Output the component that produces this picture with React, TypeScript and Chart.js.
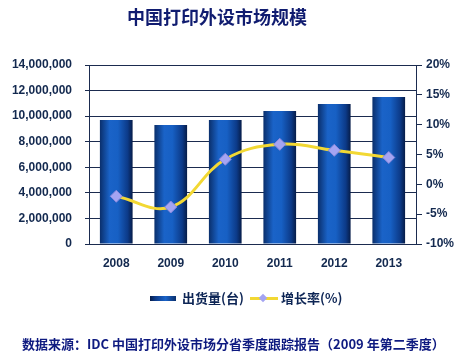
import React, { useEffect, useRef } from "react";
import { Chart, registerables } from "chart.js";

Chart.register(...registerables);

const title = "中国打印外设市场规模";
const footer = "数据来源：IDC 中国打印外设市场分省季度跟踪报告（2009 年第二季度）";
const categories = ["2008", "2009", "2010", "2011", "2012", "2013"];
const shipments = [9700000, 9300000, 9700000, 10400000, 10950000, 11500000];
const growth = [-2.0, -3.8, 4.2, 6.7, 5.7, 4.5];
const seriesNames = ["出货量(台)", "增长率(%)"];
const leftAxis = { min: 0, max: 14000000, step: 2000000 };
const rightAxis = { min: -10, max: 20, step: 5 };

const NAVY = "#13294f";
const GRID = "#1b2b4f";
const LABEL_FONT = { family: "'Liberation Sans', Arial, sans-serif", weight: "bold" as const, size: 12 };
const CAT_PCT = 0.6;

function addBarStops(g: CanvasGradient) {
  g.addColorStop(0, "#0a2f6c");
  g.addColorStop(0.3, "#1a63c8");
  g.addColorStop(0.55, "#1760c4");
  g.addColorStop(0.85, "#0c3a88");
  g.addColorStop(1, "#061c48");
}

function barGradient(ctx: any) {
  const chart = ctx.chart;
  const xs = chart.scales && chart.scales.x;
  if (!xs || !chart.chartArea || ctx.dataIndex === undefined) return "#1560c0";
  const cx = xs.getPixelForValue(ctx.dataIndex);
  const w = (xs.width / categories.length) * CAT_PCT;
  const g = chart.ctx.createLinearGradient(cx - w / 2, 0, cx + w / 2, 0);
  addBarStops(g);
  return g;
}

export default function App() {
  const ref = useRef<HTMLCanvasElement | null>(null);

  useEffect(() => {
    if (!ref.current) return;
    const chart = new Chart(ref.current, {
      type: "bar",
      data: {
        labels: categories,
        datasets: [
          {
            type: "line",
            label: seriesNames[1],
            data: growth,
            yAxisID: "y1",
            borderColor: "#f2d833",
            borderWidth: 3,
            tension: 0.4,
            pointStyle: "rectRot",
            pointRadius: 6,
            pointBackgroundColor: "#a4a4f2",
            pointBorderColor: "#8888dd",
            pointBorderWidth: 1,
            order: 1,
          } as any,
          {
            type: "bar",
            label: seriesNames[0],
            data: shipments,
            yAxisID: "y",
            backgroundColor: barGradient,
            categoryPercentage: CAT_PCT,
            barPercentage: 1,
            borderWidth: 0,
            order: 2,
          } as any,
        ],
      },
      options: {
        responsive: false,
        animation: false,
        layout: { padding: { top: 65, left: 0, right: 0, bottom: 0 } },
        plugins: {
          legend: { display: false },
          title: { display: false },
          tooltip: { enabled: false },
        },
        scales: {
          x: {
            grid: { display: false, drawTicks: false },
            border: { display: false },
            ticks: { color: NAVY, font: LABEL_FONT, padding: 12 },
            afterFit: (s: any) => {
              s.height = 118;
            },
          },
          y: {
            position: "left",
            min: leftAxis.min,
            max: leftAxis.max,
            ticks: {
              stepSize: leftAxis.step,
              color: NAVY,
              font: LABEL_FONT,
              padding: 13,
              callback: (v: any) => Number(v).toLocaleString("en-US"),
            },
            grid: { color: GRID, lineWidth: 1, drawTicks: true, tickLength: 4, tickColor: GRID },
            border: { display: true, color: GRID, width: 1 },
            afterFit: (s: any) => {
              s.width = 89;
            },
          },
          y1: {
            position: "right",
            min: rightAxis.min,
            max: rightAxis.max,
            ticks: {
              stepSize: rightAxis.step,
              color: NAVY,
              font: LABEL_FONT,
              padding: 4,
              callback: (v: any) => v + "%",
            },
            grid: { drawOnChartArea: false, drawTicks: true, tickLength: 6, color: GRID, tickColor: GRID },
            border: { display: true, color: GRID, width: 1 },
            afterFit: (s: any) => {
              s.width = 45;
            },
          },
        },
      } as any,
    });
    return () => chart.destroy();
  }, []);

  const cjk = "'Noto Sans CJK SC', 'Noto Sans', sans-serif";

  return (
    <div style={{ position: "absolute", left: 0, top: 0, width: 461, height: 362, background: "#fff", overflow: "hidden" }}>
      <canvas ref={ref} width={461} height={362} style={{ position: "absolute", left: 0, top: 0, width: 461, height: 362 }} />
      <div
        style={{
          position: "absolute",
          left: 0,
          width: 434,
          top: 6,
          textAlign: "center",
          font: `bold 18px/20px ${cjk}`,
          color: "#101c70",
          whiteSpace: "nowrap",
        }}
      >
        {title}
      </div>
      {/* legend */}
      <div
        style={{
          position: "absolute",
          left: 150,
          top: 296,
          width: 26,
          height: 5,
          background: "linear-gradient(to right, #061c48, #0c3a88 20%, #1a63c8 60%, #0a2f6c)",
        }}
      />
      <div style={{ position: "absolute", left: 182, top: 290, font: `bold 13px/16px ${cjk}`, color: "#0d2555", whiteSpace: "nowrap" }}>
        {seriesNames[0]}
      </div>
      <div style={{ position: "absolute", left: 250, top: 297, width: 28, height: 3, background: "#f2d833" }} />
      <div
        style={{
          position: "absolute",
          left: 260,
          top: 295,
          width: 6,
          height: 6,
          background: "#a4a4f2",
          transform: "rotate(45deg)",
        }}
      />
      <div style={{ position: "absolute", left: 281, top: 290, font: `bold 13px/16px ${cjk}`, color: "#0d2555", whiteSpace: "nowrap" }}>
        {seriesNames[1]}
      </div>
      <div
        style={{
          position: "absolute",
          left: 22,
          top: 336,
          font: `bold 13px/15px ${cjk}`,
          color: "#0e1a80",
          whiteSpace: "nowrap",
        }}
      >
        {footer}
      </div>
    </div>
  );
}
